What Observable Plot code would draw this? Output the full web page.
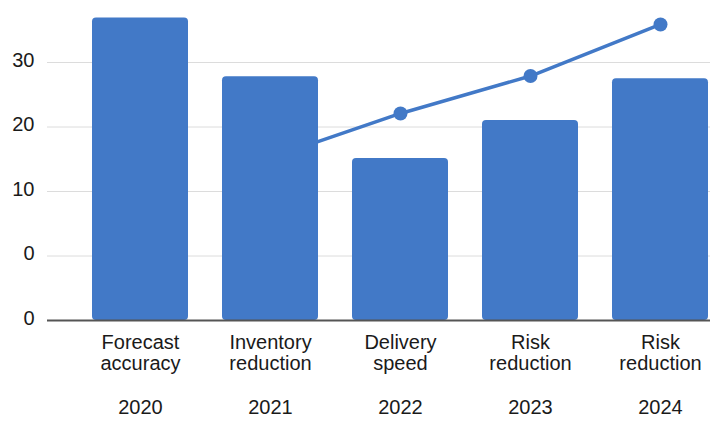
<!DOCTYPE html>
<html>
<head>
<meta charset="utf-8">
<script src="https://cdn.jsdelivr.net/npm/d3@7"></script>
<script src="https://cdn.jsdelivr.net/npm/@observablehq/plot@0.6"></script>
<style>
  html, body { margin: 0; padding: 0; background: #fff; }
  #chart { width: 710px; height: 421px; overflow: hidden; }
</style>
</head>
<body>
<div id="chart"></div>
<script>
const years = ["2020", "2021", "2022", "2023", "2024"];
const categoryLabels = ["Forecast\naccuracy", "Inventory\nreduction", "Delivery\nspeed", "Risk\nreduction", "Risk\nreduction"];
const barValues = [36.9, 27.8, 15.1, 21.0, 27.5];
const lineYears = ["2021", "2022", "2023", "2024"];
const lineValues = [15.2, 22.1, 27.9, 35.9];
const tickValues = [-10, 0, 10, 20, 30];
const tickLabels = ["0", "0", "10", "20", "30"];
const baseline = -10;

const bars = years.map((year, i) => ({year, value: barValues[i]}));
const linePts = lineYears.map((year, i) => ({year, value: lineValues[i]}));
const blue = "#4279c7";

const chart = Plot.plot({
  width: 710,
  height: 421,
  marginLeft: 47,
  marginRight: 0,
  marginTop: 0,
  marginBottom: 101,
  style: {fontFamily: "'Liberation Sans', Arial, sans-serif", fontSize: "20px", color: "#1a1a1a", background: "#fff"},
  x: {type: "band", domain: years, range: [58, 742], padding: 0.26},
  y: {domain: [-10, 30], range: [320, 62]},
  marks: [
    Plot.ruleY(tickValues.filter(v => v !== baseline), {stroke: "#dcdcdc", strokeWidth: 1}),
    Plot.line(linePts, {x: "year", y: "value", stroke: blue, strokeWidth: 3.5}),
    Plot.dot(linePts, {x: "year", y: "value", r: 7, fill: blue}),
    Plot.barY(bars, {x: "year", y1: () => baseline, y2: "value", fill: blue, rx: 4}),
    Plot.ruleY([baseline], {stroke: "#555", strokeWidth: 2}),
    Plot.axisY({ticks: tickValues, tickFormat: (d) => tickLabels[tickValues.indexOf(d)], tickSize: 0, tickPadding: 13, dy: -2, label: null, fontSize: 20}),
    Plot.axisX({tickSize: 0, tickPadding: 13, label: null, lineHeight: 1.08, fontSize: 20,
      tickFormat: (d) => categoryLabels[years.indexOf(d)] + "\n\n" + d})
  ]
});
document.getElementById("chart").appendChild(chart);
</script>
</body>
</html>
